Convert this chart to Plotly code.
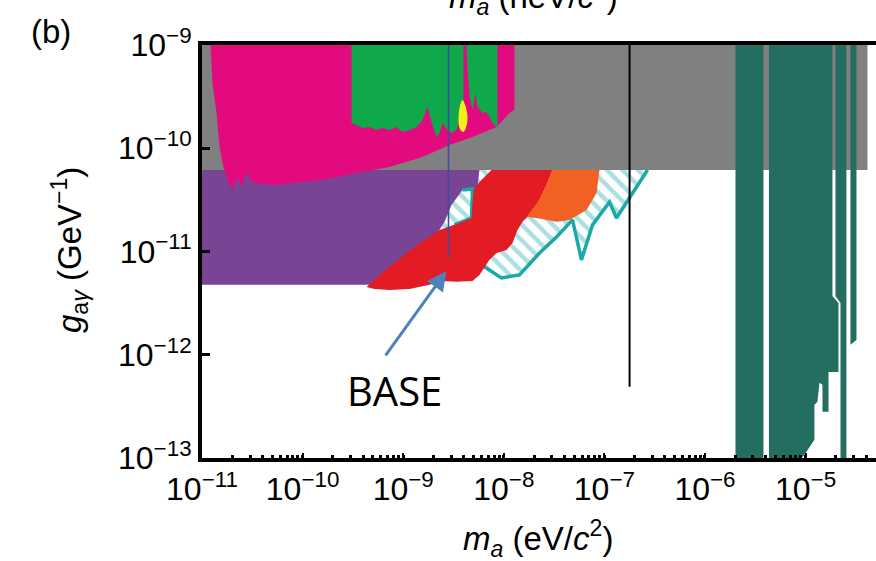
import numpy as np
import plotly.graph_objects as go

# Axis limits as log10 values: axion mass m_a (eV/c^2) and coupling g_ay (GeV^-1)
M_RANGE = [-11.0, -4.300]
G_RANGE = [-13.0, -9.0]

X_TICKS = [1e-11, 1e-10, 1e-9, 1e-8, 1e-7, 1e-6, 1e-5]
X_TICK_TEXT = ["10<sup>−11</sup>", "10<sup>−10</sup>", "10<sup>−9</sup>", "10<sup>−8</sup>",
               "10<sup>−7</sup>", "10<sup>−6</sup>", "10<sup>−5</sup>"]
Y_TICKS = [1e-13, 1e-12, 1e-11, 1e-10, 1e-9]
Y_TICK_TEXT = ["10<sup>−13</sup>", "10<sup>−12</sup>", "10<sup>−11</sup>", "10<sup>−10</sup>", "10<sup>−9</sup>"]

# Exclusion regions, outlines given as log10(m_a) / log10(g_ay)
GRAY_M = [-11.0, -4.385, -4.385, -11.0]
GRAY_G = [-10.21, -10.21, -8.98, -8.98]

PURPLE_M = [-11.0, -8.092, -8.281, -8.341, -8.639, -9.285, -11.0]
PURPLE_G = [-10.21, -10.21, -10.423, -10.713, -10.810, -11.323, -11.323]

PINK_M = [-10.916, -7.894, -7.894, -7.943, -8.072, -8.311, -8.540, -8.808, -9.136, -9.464,
          -9.802, -10.130, -10.299, -10.458, -10.508, -10.558, -10.607, -10.647, -10.697,
          -10.747, -10.796, -10.826, -10.856, -10.896]
PINK_G = [-8.98, -8.98, -9.629, -9.658, -9.794, -9.891, -9.968, -10.084, -10.181, -10.239,
          -10.307, -10.336, -10.355, -10.336, -10.326, -10.239, -10.375, -10.278, -10.404,
          -10.307, -10.142, -9.987, -9.658, -9.368]

GREEN_A_M = [-9.514, -8.401, -8.401, -8.421, -8.470, -8.520, -8.560, -8.609, -8.639, -8.669,
             -8.719, -8.758, -8.808, -8.868, -8.937, -9.007, -9.067, -9.136, -9.206, -9.265,
             -9.335, -9.405, -9.464, -9.514]
GREEN_A_G = [-8.98, -8.98, -9.532, -9.658, -9.823, -9.852, -9.823, -9.755, -9.852, -9.891,
             -9.745, -9.600, -9.726, -9.794, -9.823, -9.842, -9.794, -9.823, -9.803, -9.823,
             -9.794, -9.803, -9.774, -9.755]

GREEN_B_M = [-8.371, -8.063, -8.063, -8.112, -8.142, -8.172, -8.212, -8.261, -8.281, -8.311,
             -8.341, -8.361]
GREEN_B_G = [-8.98, -8.98, -9.803, -9.755, -9.697, -9.649, -9.658, -9.600, -9.465, -9.629,
             -9.503, -9.242]

YELLOW_M = [-8.411, -8.381, -8.361, -8.371, -8.401, -8.440, -8.450, -8.440, -8.411]
YELLOW_G = [-9.532, -9.590, -9.687, -9.784, -9.842, -9.803, -9.707, -9.610, -9.532]

HATCH_M = [-8.242, -6.571, -6.750, -6.880, -6.949, -7.118, -7.228, -7.317, -7.476, -7.645,
           -7.844, -8.023, -8.192, -8.341]
HATCH_G = [-10.210, -10.210, -10.481, -10.675, -10.520, -10.742, -11.081, -10.694, -10.859,
           -11.014, -11.227, -11.256, -11.149, -11.033]

POCKET_M = [-8.411, -8.311, -8.321, -8.490, -8.659, -8.589, -8.520]
POCKET_G = [-10.404, -10.394, -10.675, -10.742, -10.820, -10.713, -10.549]

RED_M = [-8.122, -7.516, -7.566, -7.645, -7.715, -7.774, -7.814, -7.864, -7.913, -7.973,
         -8.072, -8.142, -8.192, -8.242, -8.311, -8.470, -8.609, -8.739, -8.937, -9.136,
         -9.285, -9.365, -9.206, -8.967, -8.788, -8.639, -8.490, -8.321, -8.301, -8.242]
RED_G = [-10.210, -10.210, -10.336, -10.500, -10.617, -10.675, -10.713, -10.791, -10.917,
         -10.985, -11.014, -11.081, -11.149, -11.227, -11.285, -11.294, -11.285, -11.323,
         -11.362, -11.372, -11.362, -11.343, -11.207, -11.014, -10.888, -10.791, -10.742,
         -10.675, -10.404, -10.326]

ORANGE_M = [-7.516, -7.049, -7.078, -7.178, -7.347, -7.476, -7.675, -7.774, -7.645, -7.566]
ORANGE_G = [-10.210, -10.210, -10.433, -10.597, -10.694, -10.713, -10.675, -10.665, -10.500, -10.336]

TEAL1_M = [-5.697, -5.419, -5.419, -5.697]
TEAL1_G = [-8.98, -8.98, -13.02, -13.02]
TEAL2_M = [-5.364, -4.733, -4.733, -4.673, -4.673, -4.772, -4.772, -4.832, -4.832, -4.862,
           -4.882, -4.912, -4.912, -4.981, -5.011, -5.061, -5.364]
TEAL2_G = [-8.98, -8.98, -11.430, -11.498, -12.166, -12.166, -12.553, -12.553, -12.291, -12.272,
           -12.456, -12.485, -12.824, -12.921, -12.969, -13.02, -13.02]
TEAL3_M = [-4.703, -4.594, -4.594, -4.653, -4.653, -4.703]
TEAL3_G = [-8.98, -8.98, -13.02, -13.02, -11.498, -11.430]
TEAL4_M = [-4.554, -4.494, -4.494, -4.554]
TEAL4_G = [-8.98, -8.98, -11.856, -11.904]

# Narrow single-mass limits
BASE_M = 2.82e-9
BASE_G = [8.7e-12, 1e-9]
LINE_M = 1.78e-7
LINE_G = [4.9e-13, 1e-9]

COLORS = {
    "gray": "#808080", "purple": "#7a4494", "pink": "#e30a80", "green": "#0fa84b",
    "yellow": "#f4ee1a", "red": "#e31b24", "orange": "#f06123", "teal": "#246e61",
    "cyan": "#1aa9a8", "hatch": "#58bfc2", "base": "#3d4c9e", "arrow": "#4f81bd",
}

FONT = "Liberation Sans, Arial, sans-serif"


def region(log_m, log_g, color, **kw):
    return go.Scatter(x=10 ** np.array(log_m), y=10 ** np.array(log_g), mode="lines",
                      fill="toself", fillcolor=color, line=dict(width=0, color=color),
                      hoverinfo="skip", **kw)


hatch = dict(shape="\\", fgcolor=COLORS["hatch"], bgcolor="white", size=11, solidity=0.4,
             fillmode="overlay")

fig = go.Figure()
fig.add_trace(region(GRAY_M, GRAY_G, COLORS["gray"]))
fig.add_trace(region(PURPLE_M, PURPLE_G, COLORS["purple"]))
fig.add_trace(region(PINK_M, PINK_G, COLORS["pink"]))
fig.add_trace(region(GREEN_A_M, GREEN_A_G, COLORS["green"]))
fig.add_trace(region(GREEN_B_M, GREEN_B_G, COLORS["green"]))
fig.add_trace(go.Scatter(x=10 ** np.array(YELLOW_M), y=10 ** np.array(YELLOW_G), mode="lines",
                         fill="toself", fillcolor=COLORS["yellow"],
                         line=dict(width=0, color=COLORS["yellow"], shape="spline"),
                         hoverinfo="skip"))
fig.add_trace(region(HATCH_M, HATCH_G, "white", fillpattern=hatch))
fig.add_trace(region(POCKET_M, POCKET_G, "white", fillpattern=hatch))
# outlines of the hatched limit
fig.add_trace(go.Scatter(x=10 ** np.array(HATCH_M[1:]), y=10 ** np.array(HATCH_G[1:]),
                         mode="lines", line=dict(color=COLORS["cyan"], width=3.5),
                         hoverinfo="skip"))
fig.add_trace(go.Scatter(x=10 ** np.array(POCKET_M[:4]), y=10 ** np.array(POCKET_G[:4]),
                         mode="lines", line=dict(color=COLORS["cyan"], width=3.5),
                         hoverinfo="skip"))
fig.add_trace(region(RED_M, RED_G, COLORS["red"]))
fig.add_trace(region(ORANGE_M, ORANGE_G, COLORS["orange"]))
for tm, tg in [(TEAL1_M, TEAL1_G), (TEAL2_M, TEAL2_G), (TEAL3_M, TEAL3_G), (TEAL4_M, TEAL4_G)]:
    fig.add_trace(region(tm, tg, COLORS["teal"]))

fig.add_trace(go.Scatter(x=[BASE_M, BASE_M], y=BASE_G, mode="lines",
                         line=dict(color=COLORS["base"], width=1.6), hoverinfo="skip"))
fig.add_trace(go.Scatter(x=[LINE_M, LINE_M], y=LINE_G, mode="lines",
                         line=dict(color="black", width=2), hoverinfo="skip"))

axis_common = dict(type="log", showgrid=False, zeroline=False, showline=True, linecolor="black",
                   linewidth=4, ticks="inside", tickcolor="black",
                   tickfont=dict(family=FONT, size=32, color="black"))

TITLE_FONT = dict(family=FONT, size=33, color="black")

fig.update_layout(
    width=876, height=561,
    margin=dict(l=202, r=0, t=45, b=103),
    paper_bgcolor="white", plot_bgcolor="white",
    showlegend=False,
    xaxis=dict(range=M_RANGE, tickmode="array", tickvals=X_TICKS, ticktext=X_TICK_TEXT,
               ticklen=5, tickwidth=2, mirror=True,
               minor=dict(ticks="inside", ticklen=3, tickwidth=2.5, tickcolor="black",
                          dtick="D1", showgrid=False),
               **axis_common),
    yaxis=dict(range=G_RANGE, tickmode="array", tickvals=Y_TICKS, ticktext=Y_TICK_TEXT,
               ticklen=8, tickwidth=3, **axis_common),
    annotations=[
        dict(text="<i>g</i><sub>a<i>γ</i></sub> (GeV<sup>−1</sup>)", textangle=-90,
             xref="paper", yref="paper", x=(70 - 202) / 674, y=(458 - 250) / 413,
             showarrow=False, font=TITLE_FONT, xanchor="center", yanchor="middle"),
        dict(text="<i>m</i><sub><i>a</i></sub> (eV/<i>c</i><sup>2</sup>)",
             xref="paper", yref="paper", x=(538 - 202) / 674, y=(458 - 538) / 413,
             showarrow=False, font=TITLE_FONT, xanchor="center", yanchor="middle"),
        dict(text="<i>m</i><sub><i>a</i></sub> (neV/<i>c</i><sup>2</sup>)",
             xref="paper", yref="paper", x=(533 - 202) / 674, y=(458 + 3) / 413,
             showarrow=False, font=TITLE_FONT, xanchor="center", yanchor="middle"),
        dict(text="(b)", xref="paper", yref="paper", x=(51 - 202) / 674, y=(458 - 32) / 413,
             showarrow=False, font=dict(family=FONT, size=33, color="black"),
             xanchor="center", yanchor="middle"),
        dict(text="BASE", xref="paper", yref="paper", x=(394 - 202) / 674, y=(458 - 390) / 413,
             showarrow=False, font=dict(family="Open Sans, sans-serif", size=40, color="black"),
             xanchor="center", yanchor="middle"),
        dict(text="", x=-8.570, y=-11.188, xref="x", yref="y",
             ax=-9.186, ay=-12.020, axref="x", ayref="y",
             showarrow=True, arrowhead=2, arrowsize=1.3, arrowwidth=3,
             arrowcolor=COLORS["arrow"], standoff=0),
    ],
)

fig.write_html("out.html")
